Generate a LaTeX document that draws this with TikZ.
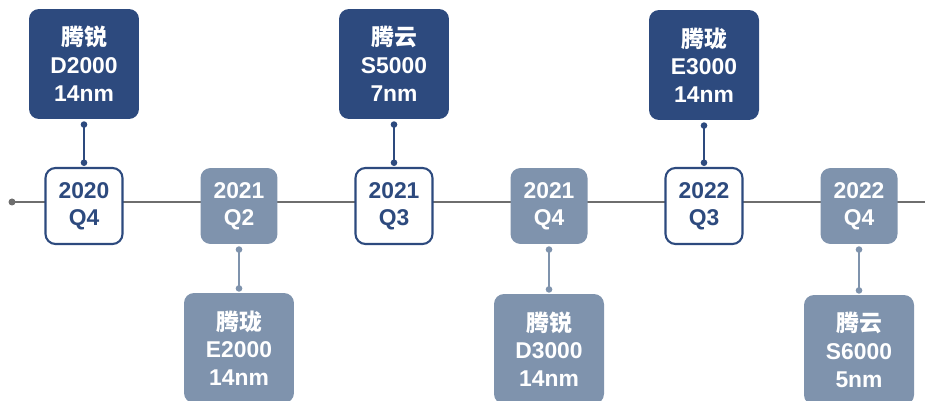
\documentclass[tikz,border=0pt]{standalone}
\usepackage{fontspec}
\setmainfont{Liberation Sans}
\newfontfamily\cjk{Noto Sans CJK SC}
\usetikzlibrary{arrows.meta}

\definecolor{navy}{HTML}{2D4A7E}
\definecolor{slate}{HTML}{7F93AD}
\definecolor{rule}{HTML}{6E6E6E}

\tikzset{
  chip/.style={rounded corners=0.2cm, minimum width=2.2cm, minimum height=2.2cm,
    inner sep=0pt, align=center, text=white,
    font=\fontsize{13}{15.8}\selectfont\bfseries},
  chipdark/.style={chip, fill=navy},
  chiplight/.style={chip, fill=slate},
  qtr/.style={rounded corners=0.2cm, minimum width=1.54cm, minimum height=1.52cm,
    inner sep=0pt, align=center, font=\fontsize{13}{15.5}\selectfont\bfseries},
  qtrnow/.style={qtr, draw=navy, line width=1.2pt, fill=white, text=navy},
  qtrlater/.style={qtr, fill=slate, text=white},
  link/.style={line width=0.9pt, {Circle[length=0.13cm]}-{Circle[length=0.13cm]},
    shorten <=0.04cm, shorten >=0.02cm},
}

\begin{document}
\begin{tikzpicture}[x=0.02cm, y=-0.02cm]
		%%%%% START %%%%%
		\clip (0,0) rectangle (925,401);
		
		% time line
		\coordinate (t0) at (12,202);
		\coordinate (t1) at (925,202);
		\draw[rule, line width=1.1pt] (t0) -- (t1);
		\fill[rule] (t0) circle (0.07cm);
		
		% quarters
		\node[qtrnow]   (q1) at (84,206)  {2020\\Q4};
		\node[qtrlater] (q2) at (239,206) {2021\\Q2};
		\node[qtrnow]   (q3) at (394,206) {2021\\Q3};
		\node[qtrlater] (q4) at (549,206) {2021\\Q4};
		\node[qtrnow]   (q5) at (704,206) {2022\\Q3};
		\node[qtrlater] (q6) at (859,206) {2022\\Q4};
		
		% chips above
		\node[chipdark] (d2000) at (84,64)  {{\cjk 腾锐}\\D2000\\14nm};
		\node[chipdark] (s5000) at (394,64) {{\cjk 腾云}\\S5000\\7nm};
		\node[chipdark] (e3000) at (704,65) {{\cjk 腾珑}\\E3000\\14nm};
		
		% chips below
		\node[chiplight] (e2000) at (239,348) {{\cjk 腾珑}\\E2000\\14nm};
		\node[chiplight] (d3000) at (549,349) {{\cjk 腾锐}\\D3000\\14nm};
		\node[chiplight] (s6000) at (859,350) {{\cjk 腾云}\\S6000\\5nm};
		
		\draw[link, navy] (d2000) -- (q1);
		\draw[link, navy] (s5000) -- (q3);
		\draw[link, navy] (e3000) -- (q5);
		
		\draw[link, slate] (q2) -- (e2000);
		\draw[link, slate] (q4) -- (d3000);
		\draw[link, slate] (q6) -- (s6000);
		%%%%% END %%%%%
\end{tikzpicture}
\end{document}
